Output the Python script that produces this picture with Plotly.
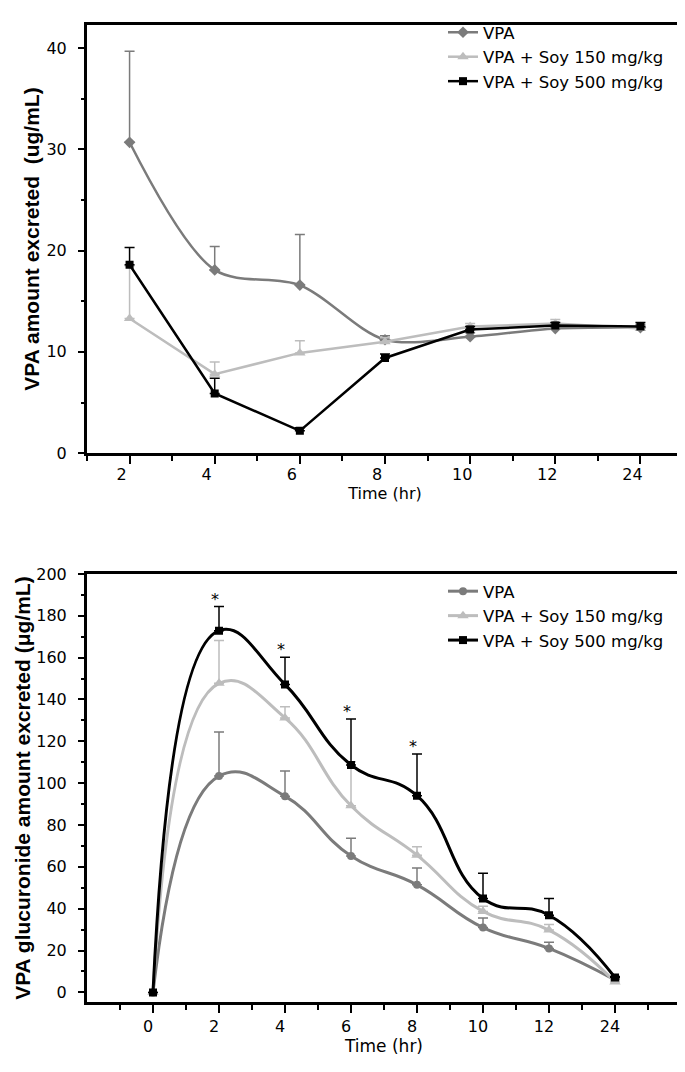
import plotly.graph_objects as go

# ---------------- data ----------------
top_labels = ["2", "4", "6", "8", "10", "12", "24"]
top_vpa = [30.7, 18.1, 16.6, 11.2, 11.5, 12.3, 12.4]
top_vpa_sd = [9.0, 2.3, 5.0, 0.4, 0.4, 0.3, 0.3]
top_soy150 = [13.3, 7.8, 9.9, 11.0, 12.5, 12.8, 12.3]
top_soy150_sd = [5.2, 1.2, 1.2, 0.4, 0.3, 0.4, 0.3]
top_soy500 = [18.6, 5.9, 2.2, 9.4, 12.2, 12.6, 12.5]
top_soy500_sd = [1.7, 1.5, 0.3, 0.4, 0.3, 0.3, 0.4]

bot_labels = ["0", "2", "4", "6", "8", "10", "12", "24"]
bot_vpa = [0, 103.4, 93.8, 65.2, 51.4, 31.0, 21.0, 5.9]
bot_vpa_sd = [0, 21.0, 12.0, 8.5, 8.0, 4.5, 3.0, 0.5]
bot_soy150 = [0, 147.7, 131.2, 89.2, 65.6, 38.7, 29.8, 5.0]
bot_soy150_sd = [0, 20.5, 5.3, 21.0, 4.0, 2.5, 2.6, 0.5]
bot_soy500 = [0, 172.9, 147.2, 108.7, 94.0, 44.9, 36.9, 7.1]
bot_soy500_sd = [0, 11.5, 13.0, 22.0, 20.0, 12.0, 8.0, 0.5]
star_idx = [1, 2, 3, 4]

series_names = ["VPA", "VPA + Soy 150 mg/kg", "VPA + Soy 500 mg/kg"]
GRAY, LIGHT, BLACK = "#7b7b7b", "#bdbdbd", "#000000"

W, H = 685, 1072
FONT = "DejaVu Sans"

fig = go.Figure()


def add(xs, ys, sd, name, color, symbol, size, width, shape, smooth, xa, ya, leg):
    fig.add_trace(go.Scatter(
        x=xs, y=ys, mode="lines+markers", name=name,
        line=dict(color=color, width=width, shape=shape, smoothing=smooth),
        marker=dict(symbol=symbol, size=size, color=color),
        error_y=dict(type="data", array=sd, arrayminus=[0] * len(sd),
                     symmetric=False, color=color, thickness=1.5, width=5),
        xaxis=xa, yaxis=ya, legend=leg))


tx = list(range(len(top_labels)))
add(tx, top_vpa, top_vpa_sd, series_names[0], GRAY, "diamond", 9, 2.5, "spline", 0.9, "x", "y", "legend")
add(tx, top_soy150, top_soy150_sd, series_names[1], LIGHT, "triangle-up", 10, 2.5, "linear", 0, "x", "y", "legend")
add(tx, top_soy500, top_soy500_sd, series_names[2], BLACK, "square", 8, 2.5, "linear", 0, "x", "y", "legend")

bx = list(range(len(bot_labels)))
add(bx, bot_vpa, bot_vpa_sd, series_names[0], GRAY, "circle", 8, 3, "spline", 1.3, "x2", "y2", "legend2")
add(bx, bot_soy150, bot_soy150_sd, series_names[1], LIGHT, "triangle-up", 10, 3, "spline", 1.3, "x2", "y2", "legend2")
add(bx, bot_soy500, bot_soy500_sd, series_names[2], BLACK, "square", 8, 3, "spline", 1.3, "x2", "y2", "legend2")

for i in star_idx:
    fig.add_annotation(x=i, y=bot_soy500[i] + bot_soy500_sd[i], xref="x2", yref="y2",
                       text="*", showarrow=False, yanchor="bottom", xshift=-4, yshift=-4,
                       font=dict(family=FONT, size=16, color="#000000"))

tickfont = dict(family=FONT, size=16, color="black")
common = dict(showline=True, linewidth=3, linecolor="black", mirror=True,
              showgrid=False, zeroline=False, ticks="outside", tickwidth=2,
              tickcolor="black", tickfont=tickfont)

fig.update_layout(
    width=W, height=H, margin=dict(l=0, r=0, t=0, b=0),
    paper_bgcolor="white", plot_bgcolor="white",
    font=dict(family=FONT, color="black"),
    xaxis=dict(domain=[79 / W, 675 / W], range=[-0.5, 6.5], anchor="y",
               tickmode="array", tickvals=tx, ticktext=top_labels, ticklen=8,
               ticklabelshift=-8, ticklabelstandoff=-3,
               minor=dict(ticks="outside", ticklen=5, tickwidth=2, tick0=-0.5, dtick=1, tickcolor="black"),
               title=dict(text="Time (hr)", font=dict(family=FONT, size=16, color="black"), standoff=0),
               **common),
    yaxis=dict(domain=[(H - 444) / H, (H - 8) / H], range=[0, 42.3], anchor="x",
               tickmode="linear", tick0=0, dtick=10, ticklen=6, ticklabelstandoff=8,
               minor=dict(ticks="outside", ticklen=3, tickwidth=2, tick0=0, dtick=5, tickcolor="black"),
               title=dict(text="<b>VPA amount excreted  (ug/mL)</b>",
                          font=dict(family="Liberation Sans", size=21, color="black"), standoff=2),
               **common),
    xaxis2=dict(domain=[79 / W, 673 / W], range=[-1, 8], anchor="y2",
                tickmode="array", tickvals=bx, ticktext=bot_labels, ticklen=8,
                ticklabelshift=-5,
                minor=dict(ticks="outside", ticklen=5, tickwidth=2, tick0=-0.5, dtick=1, tickcolor="black"),
                title=dict(text="Time (hr)", font=dict(family=FONT, size=17, color="black"), standoff=2),
                **common),
    yaxis2=dict(domain=[(H - 1003) / H, (H - 567) / H], range=[-4.7, 200], anchor="x2",
                tickmode="linear", tick0=0, dtick=20, ticklen=6, ticklabelstandoff=8,
                minor=dict(ticks="outside", ticklen=3, tickwidth=2, tick0=0, dtick=10, tickcolor="black"),
                title=dict(text="<b>VPA glucuronide amount excreted (\u03bcg/mL)</b>",
                           font=dict(family="Liberation Sans", size=21, color="black"), standoff=0),
                **common),
    legend=dict(x=435 / W, y=1 + 2 / H, xanchor="left", yanchor="top",
                font=dict(family=FONT, size=16.5, color="black"),
                bgcolor="rgba(0,0,0,0)", tracegroupgap=0, itemwidth=30),
    legend2=dict(x=435 / W, y=1 - 567 / H, xanchor="left", yanchor="top",
                 font=dict(family=FONT, size=16.5, color="black"),
                 bgcolor="rgba(0,0,0,0)", tracegroupgap=0, itemwidth=30),
    showlegend=True,
)

fig.write_html("out.html")
